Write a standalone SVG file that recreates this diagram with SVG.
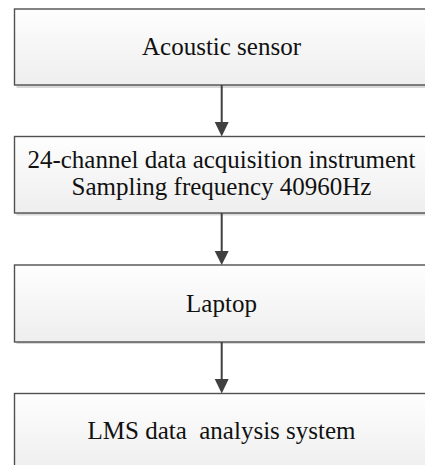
<svg xmlns="http://www.w3.org/2000/svg" width="425" height="465" viewBox="0 0 425 465">
  <style>
    .box { fill: url(#boxFill); stroke: #505050; stroke-width: 1.4; }
    .shadow { fill: #c8c8c8; opacity: 0.7; }
    .label { font-family: "Liberation Serif", "Times New Roman", serif; font-size: 25px; fill: #111; text-anchor: middle; white-space: pre; }
    .link { stroke: #404040; stroke-width: 2; fill: none; }
    .head { fill: #404040; }
  </style>
  <defs>
    <linearGradient id="boxFill" x1="0" y1="0" x2="0" y2="1">
      <stop offset="0" stop-color="#fefefe"/>
      <stop offset="1" stop-color="#eeeeee"/>
    </linearGradient>
  </defs>

  <!-- process steps, top to bottom -->
  <g id="node-sensor">
    <rect class="shadow" x="16.5" y="11" width="420" height="77"/>
    <rect class="box" x="14.5" y="9" width="420" height="76"/>
    <text class="label" x="221.5" y="55">Acoustic sensor</text>
  </g>

  <g id="node-daq">
    <rect class="shadow" x="16.5" y="138.5" width="420" height="77"/>
    <rect class="box" x="14.5" y="136.5" width="420" height="76.5"/>
    <text class="label" x="221.5" y="168">24-channel data acquisition instrument</text>
    <text class="label" x="221.5" y="195">Sampling frequency 40960Hz</text>
  </g>

  <g id="node-laptop">
    <rect class="shadow" x="16.5" y="267" width="420" height="77"/>
    <rect class="box" x="14.5" y="265" width="420" height="77"/>
    <text class="label" x="221.5" y="312">Laptop</text>
  </g>

  <g id="node-lms">
    <rect class="shadow" x="16.5" y="395.5" width="420" height="77"/>
    <rect class="box" x="14.5" y="393.5" width="420" height="77"/>
    <text class="label" x="221.5" y="439">LMS data  analysis system</text>
  </g>

  <!-- flow arrows -->
  <g id="connectors">
    <line class="link" x1="221.7" y1="85" x2="221.7" y2="124"/>
    <polygon class="head" points="214.7,122 228.7,122 221.7,136.5"/>
    <line class="link" x1="221.7" y1="213" x2="221.7" y2="253"/>
    <polygon class="head" points="214.7,251 228.7,251 221.7,265"/>
    <line class="link" x1="221.7" y1="342" x2="221.7" y2="381"/>
    <polygon class="head" points="214.7,379 228.7,379 221.7,393.5"/>
  </g>
</svg>
